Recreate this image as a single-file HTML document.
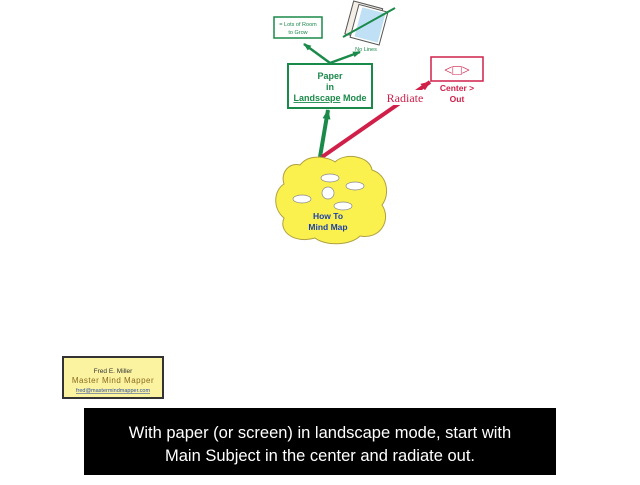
<!DOCTYPE html>
<html><head><meta charset="utf-8"><style>
body{margin:0;width:640px;height:480px;background:#fff;overflow:hidden;font-family:"Liberation Sans",sans-serif}
</style></head><body>
<svg width="640" height="480" viewBox="0 0 640 480" xmlns="http://www.w3.org/2000/svg">
<defs>
<marker id="ga" markerUnits="userSpaceOnUse" markerWidth="10" markerHeight="10" refX="9" refY="5" orient="auto"><path d="M0,1 L10,5 L0,9z" fill="#1a8a4a"/></marker>
<marker id="gs" markerUnits="userSpaceOnUse" markerWidth="8" markerHeight="8" refX="7" refY="4" orient="auto"><path d="M0,1 L8,4 L0,7z" fill="#1a8a4a"/></marker>
<marker id="ra" markerUnits="userSpaceOnUse" markerWidth="10" markerHeight="10" refX="9" refY="5" orient="auto"><path d="M0,1 L10,5 L0,9z" fill="#d0204a"/></marker>
</defs>
<line x1="320" y1="157" x2="328" y2="110" stroke="#1a8a4a" stroke-width="4" marker-end="url(#ga)"/>
<line x1="322" y1="157" x2="430" y2="82" stroke="#d0204a" stroke-width="4" marker-end="url(#ra)"/>
<line x1="330" y1="63" x2="304" y2="44" stroke="#1a8a4a" stroke-width="2.5" marker-end="url(#gs)"/>
<line x1="330" y1="63" x2="360" y2="52" stroke="#1a8a4a" stroke-width="2.5" marker-end="url(#gs)"/>
<rect x="274" y="17" width="48" height="21" fill="#fff" stroke="#1a8a4a" stroke-width="1.5"/>
<text x="298" y="26" font-size="5.5" fill="#1a8a4a" text-anchor="middle">= Lots of Room</text>
<text x="298" y="34" font-size="5.5" fill="#1a8a4a" text-anchor="middle">to Grow</text>
<g transform="rotate(15 370 25)">
<rect x="348" y="6" width="30" height="34" fill="#f4efe6" stroke="#555"/>
<rect x="354" y="8" width="30" height="34" fill="#fff" stroke="#555"/>
<rect x="358" y="10" width="24" height="30" fill="#bfe0f5"/>
</g>
<line x1="343" y1="37" x2="395" y2="8" stroke="#1a8a4a" stroke-width="2"/>
<text x="366" y="51" font-size="5.5" fill="#1a8a4a" text-anchor="middle">No Lines</text>
<rect x="288" y="64" width="84" height="44" fill="#fff" stroke="#1a8a4a" stroke-width="2"/>
<g font-size="9" font-weight="bold" fill="#1a8a4a" text-anchor="middle">
<text x="330" y="79">Paper</text><text x="330" y="90">in</text>
<text x="330" y="101"><tspan text-decoration="underline">Landscape</tspan> Mode</text></g>
<rect x="431" y="57" width="52" height="24" fill="#fff" stroke="#d0204a" stroke-width="1.5"/>
<text x="457" y="75" font-size="15" fill="#d0204a" text-anchor="middle" font-family="Liberation Serif">&lt;□&gt;</text>
<text x="457" y="91" font-size="8.5" font-weight="bold" fill="#d0204a" text-anchor="middle">Center &gt;</text>
<text x="457" y="102" font-size="8.5" font-weight="bold" fill="#d0204a" text-anchor="middle">Out</text>
<rect x="386" y="90" width="40" height="15" fill="#fff"/>
<text x="405" y="102" font-size="12" fill="#d0204a" text-anchor="middle" font-family="Liberation Serif">Radiate</text>
<path d="M300,165 C310,152 330,158 335,162 C345,152 370,156 372,170 C388,175 390,195 382,205 C392,220 380,240 360,236 C350,246 325,246 315,238 C295,244 278,232 284,218 C272,208 274,190 284,184 C280,172 290,162 300,165z" fill="#fbf14e" stroke="#b0a040" stroke-width="1"/>
<g fill="#fff" stroke="#888" stroke-width="0.7">
<ellipse cx="330" cy="178" rx="9" ry="4"/><ellipse cx="355" cy="186" rx="9" ry="4"/>
<ellipse cx="302" cy="199" rx="9" ry="4"/><ellipse cx="343" cy="206" rx="9" ry="4"/>
<circle cx="328" cy="193" r="6"/></g>
<text x="328" y="219" font-size="8.5" font-weight="bold" fill="#1a3fb0" text-anchor="middle">How To</text>
<text x="328" y="230" font-size="8.5" font-weight="bold" fill="#1a3fb0" text-anchor="middle">Mind Map</text>
<rect x="63" y="357" width="100" height="41" fill="#fbf3a0" stroke="#333" stroke-width="2"/>
<text x="113" y="373" font-size="6.5" fill="#333" text-anchor="middle">Fred E. Miller</text>
<text x="113" y="383" font-size="8" fill="#8a6a20" text-anchor="middle" letter-spacing="0.5">Master Mind Mapper</text>
<text x="113" y="392" font-size="5.5" fill="#3050a0" text-anchor="middle" text-decoration="underline">fred@mastermindmapper.com</text>
<rect x="84" y="408" width="472" height="67" fill="#000"/>
<text x="320" y="438" font-size="16.5" fill="#fff" text-anchor="middle">With paper (or screen) in landscape mode, start with</text>
<text x="320" y="461" font-size="16.5" fill="#fff" text-anchor="middle">Main Subject in the center and radiate out.</text>
</svg>
</body></html>
